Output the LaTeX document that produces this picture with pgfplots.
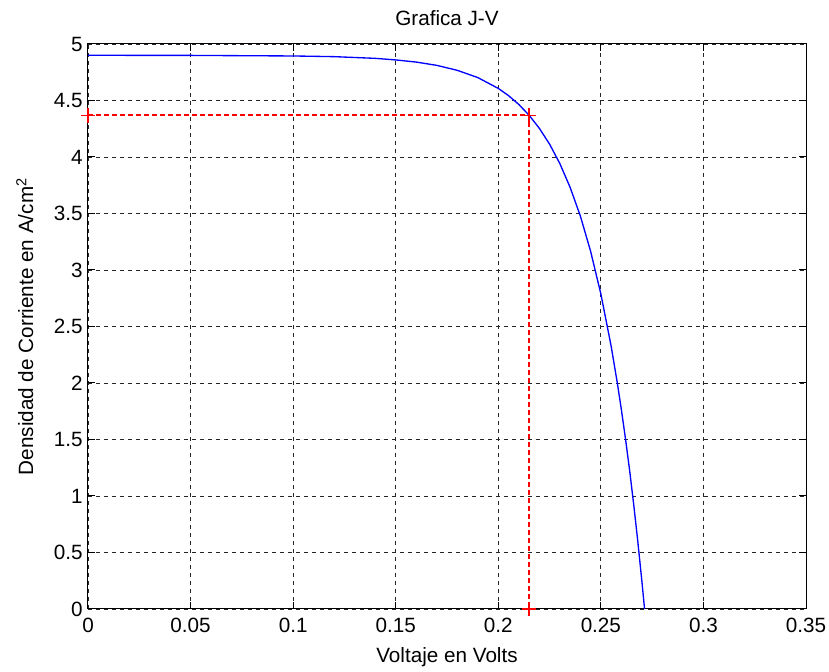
\documentclass[border=0pt]{standalone}
\usepackage{fontspec}
\setmainfont{Liberation Sans}
\usepackage{pgfplots}
\pgfplotsset{compat=1.18}
\definecolor{mred}{rgb}{1,0,0}
\definecolor{mblue}{rgb}{0,0,1}

\begin{document}
\begin{tikzpicture}[font=\fontsize{15.5}{18}\selectfont]
\begin{axis}[
    name=ax,
    scale only axis,
    width=538.5pt, height=423.75pt,
    xmin=0, xmax=0.35,
    ymin=0, ymax=5,
    xtick={0,0.05,...,0.35},
    ytick={0,0.5,...,5},
    scaled x ticks=false,
    scaled y ticks=false,
    /pgf/number format/assume math mode=true,
    xticklabel style={/pgf/number format/fixed, /pgf/number format/precision=2, inner xsep=0pt, yshift=-3.5pt},
    yticklabel style={/pgf/number format/fixed, /pgf/number format/precision=1, xshift=-0.5pt},
    tick align=inside,
    tick pos=both,
    major tick length=5pt,
    tick style={black, line width=0.75pt},
    axis line style={black, line width=0.75pt},
    grid=major,
    major grid style={black!85, line width=0.6pt, dash pattern=on 3pt off 3pt},
    every axis title shift=0pt,
    title={Grafica J-V},
    title style={at={(axis description cs:0.5,1.046)}, anchor=center},
    xlabel={Voltaje en Volts},
    xlabel style={at={(axis description cs:0.5,-0.085)}, anchor=center},
    ylabel={Densidad de Corriente en A/cm\textsuperscript{2}},
    ylabel style={at={(axis description cs:-0.088,0.5)}, anchor=center},
    clip=false,
]
% J-V curve
\addplot[color=mblue, line width=1pt] coordinates {
    (0.000, 4.900) (0.050, 4.899) (0.100, 4.894) (0.120, 4.888)
    (0.140, 4.873) (0.150, 4.859) (0.160, 4.840) (0.170, 4.811)
    (0.180, 4.767) (0.190, 4.703) (0.200, 4.607) (0.205, 4.543)
    (0.210, 4.465) (0.215, 4.370) (0.220, 4.254) (0.225, 4.114)
    (0.230, 3.942) (0.235, 3.732) (0.240, 3.478) (0.245, 3.166)
    (0.250, 2.788) (0.255, 2.327) (0.258, 2.003) (0.260, 1.764)
    (0.262, 1.507) (0.264, 1.230) (0.266, 0.926) (0.268, 0.599)
    (0.270, 0.245) (0.2713, 0.000)
};
% maximum power point guides
\addplot[color=mred, line width=1.1pt, dash pattern=on 3.5pt off 2.5pt,
    mark=+, mark size=5.5pt, mark options={solid, color=mred, line width=1pt}] coordinates {
    (0, 4.37) (0.215, 4.37) (0.215, 0)
};
\end{axis}
\path ([shift={(-66pt,-46.5pt)}]ax.south west) rectangle ([shift={(17.25pt,33pt)}]ax.north east);
\end{tikzpicture}
\end{document}
